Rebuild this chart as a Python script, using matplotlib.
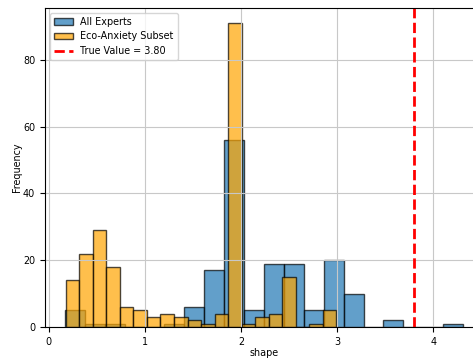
import numpy as np
import matplotlib
matplotlib.use("Agg")
import matplotlib.pyplot as plt

## bin counts (20 bins each)
all_lo, all_hi = 0.167, 4.31
all_counts = [5, 1, 1, 0, 0, 1, 6, 17, 56, 5, 19, 19, 5, 20, 10, 0, 2, 0, 0, 1]

eco_lo, eco_hi = 0.177, 2.99
eco_counts = [14, 22, 29, 18, 6, 5, 3, 4, 3, 2, 1, 4, 91, 1, 3, 4, 15, 0, 1, 5]

true_value = 3.80

plt.rcParams["font.size"] = 6.9

fig = plt.figure(figsize=(4.73, 3.6), dpi=100)
ax = fig.add_axes([45 / 473, 33 / 360, 438 / 473, 319 / 360])

## rebuild histograms from the counts
all_edges = np.linspace(all_lo, all_hi, len(all_counts) + 1)
all_centers = (all_edges[:-1] + all_edges[1:]) / 2
eco_edges = np.linspace(eco_lo, eco_hi, len(eco_counts) + 1)
eco_centers = (eco_edges[:-1] + eco_edges[1:]) / 2

ax.hist(all_centers, bins=all_edges, weights=all_counts, alpha=0.7,
        color="#1f77b4", edgecolor="black", label="All Experts")
ax.hist(eco_centers, bins=eco_edges, weights=eco_counts, alpha=0.7,
        color="orange", edgecolor="black", label="Eco-Anxiety Subset")
ax.axvline(true_value, color="red", linestyle="--", linewidth=2,
           label="True Value = %.2f" % true_value)

ax.set_xlabel("shape", labelpad=1)
ax.set_ylabel("Frequency", labelpad=1)
ax.grid(True, color="#c8c8c8")
ax.legend(loc="upper left")

fig.savefig("out.png", dpi=100)
